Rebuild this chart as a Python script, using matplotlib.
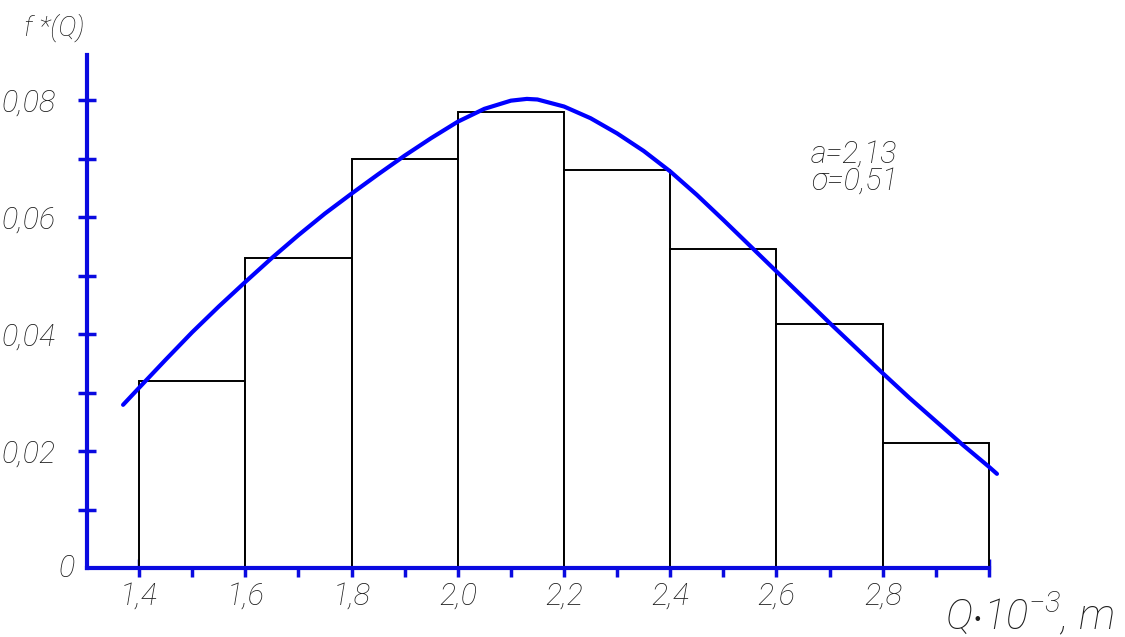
import numpy as np
import matplotlib
matplotlib.use("Agg")
import matplotlib.pyplot as plt
from matplotlib import font_manager

# histogram of Q (bins of 0.2) and the fitted density curve
bin_left = [1.4, 1.6, 1.8, 2.0, 2.2, 2.4, 2.6, 2.8]
freq = [0.032, 0.053, 0.070, 0.078, 0.068, 0.0545, 0.0418, 0.0213]

curve_q = [1.370, 1.40, 1.45, 1.50, 1.55, 1.60, 1.65, 1.70, 1.75, 1.80, 1.85,
           1.90, 1.95, 2.00, 2.05, 2.10, 2.13, 2.15, 2.20, 2.25, 2.30, 2.35,
           2.40, 2.45, 2.50, 2.55, 2.60, 2.65, 2.70, 2.75, 2.80, 2.85, 2.90,
           2.95, 3.00, 3.015]
curve_f = [0.0279, 0.0308, 0.0356, 0.0403, 0.0447, 0.0489, 0.0530, 0.0569,
           0.0606, 0.0640, 0.0673, 0.0705, 0.0735, 0.0763, 0.0785, 0.0799,
           0.0802, 0.0801, 0.0789, 0.0769, 0.0743, 0.0713, 0.0678, 0.0638,
           0.0595, 0.0551, 0.0507, 0.0463, 0.0419, 0.0376, 0.0333, 0.0291,
           0.0251, 0.0211, 0.0173, 0.0161]

x_major = [1.4, 1.6, 1.8, 2.0, 2.2, 2.4, 2.6, 2.8]
x_labels = ["1,4", "1,6", "1,8", "2,0", "2,2", "2,4", "2,6", "2,8"]
y_major = [0.02, 0.04, 0.06, 0.08]
y_labels = ["0,02", "0,04", "0,06", "0,08"]

FONT = ["Roboto", "DejaVu Sans"]
plt.rcParams["mathtext.fontset"] = "custom"
plt.rcParams["mathtext.it"] = "Roboto:italic:light"
plt.rcParams["mathtext.rm"] = "Roboto:italic:light"

blue = "#0a0ae0"
txt = "#1e1e1e"
tfont = dict(family=FONT, style="italic", weight="light", color=txt)

fig = plt.figure(figsize=(11.25, 6.37), dpi=100)
ax = fig.add_axes([0.0773, 0.1083, 0.8018, 0.8053])

ax.bar(bin_left, freq, width=0.2, align="edge", facecolor="white",
       edgecolor="black", linewidth=1.4, zorder=2, clip_on=False)
ax.plot(curve_q, curve_f, color="#0000ff", linewidth=3, clip_on=False,
        solid_capstyle="round", solid_joinstyle="round", zorder=3)

ax.set_xlim(1.302, 3.0)
ax.set_ylim(0, 0.0877)

for s in ["top", "right"]:
    ax.spines[s].set_visible(False)
for s in ["left", "bottom"]:
    ax.spines[s].set_color(blue)
    ax.spines[s].set_linewidth(3)
    ax.spines[s].set_zorder(4)

ax.set_xticks(np.arange(1.4, 3.01, 0.1), minor=True)
ax.set_xticks(x_major)
ax.set_xticklabels(x_labels)
ax.set_yticks(np.arange(0.01, 0.081, 0.01), minor=True)
ax.set_yticks(y_major)
ax.set_yticklabels(y_labels)

for which in ["major", "minor"]:
    ax.tick_params(which=which, direction="inout", length=13, width=2.5,
                   color=blue)
ax.tick_params(axis="x", which="major", pad=3)
ax.tick_params(axis="y", which="major", pad=16)
for lab in ax.get_xticklabels() + ax.get_yticklabels():
    lab.set_fontproperties(font_manager.FontProperties(
        family=FONT, style="italic", weight="light", size=22))
    lab.set_color(txt)

ax.text(-0.014, 0.0, "0", transform=ax.transAxes, ha="right", va="center",
        fontsize=22, **tfont)

fig.text(0.048, 0.957, "f *(Q)", fontsize=20, ha="center", va="center", **tfont)
fig.text(0.99, 0.035, r"$Q{\cdot}10^{-3}$, m", fontsize=30, ha="right",
         va="center", **tfont)
ax.text(2.665, 0.0685, "a=2,13\nσ=0,51", fontsize=22, ha="left", va="center",
        linespacing=0.9, **tfont)

fig.savefig("out.png", dpi=100, facecolor="white")
